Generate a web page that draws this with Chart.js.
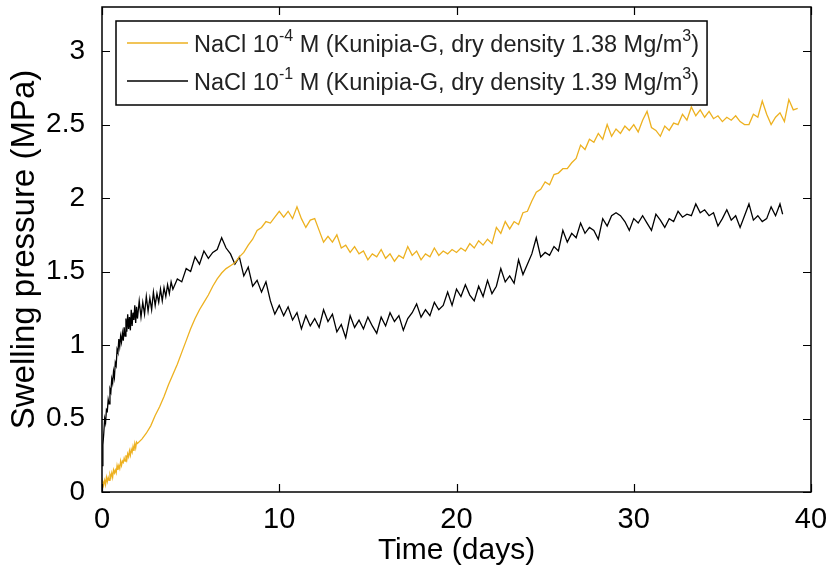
<!DOCTYPE html>
<html>
<head>
<meta charset="utf-8">
<script src="https://cdn.jsdelivr.net/npm/chart.js@4.4.1/dist/chart.umd.min.js"></script>
<style>
html,body{margin:0;padding:0;background:#fff;}
#wrap{width:828px;height:570px;}
</style>
</head>
<body>
<div id="wrap"><canvas id="c" width="828" height="570"></canvas></div>
<script>
// ---- data ----
const orangeLabel = "NaCl 10^{-4} M (Kunipia-G, dry density 1.38 Mg/m^{3})";
const blackLabel  = "NaCl 10^{-1} M (Kunipia-G, dry density 1.39 Mg/m^{3})";
const xTitle = "Time (days)";
const yTitle = "Swelling pressure (MPa)";

const orangeDays = [
 0,0.05,0.1,0.15,0.2,0.25,0.3,0.35,0.4,0.45,0.5,0.55,0.6,0.65,0.7,0.75,0.8,0.85,0.9,0.95,
 1,1.05,1.1,1.15,1.2,1.25,1.3,1.35,1.4,1.45,1.5,1.55,1.6,1.65,1.7,1.75,1.8,1.85,1.9,1.95,
 2,2.25,2.5,2.75,3,3.25,3.5,3.75,4,4.25,4.5,4.75,5,5.25,5.5,5.75,6,6.25,6.5,6.75,
 7,7.25,7.5,7.75,8,8.25,8.5,8.75,9,9.25,9.5,9.75,10,10.25,10.5,10.75,11,11.25,11.5,11.75,
 12,12.25,12.5,12.75,13,13.25,13.5,13.75,14,14.25,14.5,14.75,15,15.25,15.5,15.75,16,16.25,16.5,16.75,
 17,17.25,17.5,17.75,18,18.25,18.5,18.75,19,19.25,19.5,19.75,20,20.25,20.5,20.75,21,21.25,21.5,21.75,
 22,22.25,22.5,22.75,23,23.25,23.5,23.75,24,24.25,24.5,24.75,25,25.25,25.5,25.75,26,26.25,26.5,26.75,
 27,27.25,27.5,27.75,28,28.25,28.5,28.75,29,29.25,29.5,29.75,30,30.25,30.5,30.75,31,31.25,31.5,31.75,
 32,32.25,32.5,32.75,33,33.25,33.5,33.75,34,34.25,34.5,34.75,35,35.25,35.5,35.75,36,36.25,36.5,36.75,
 37,37.25,37.5,37.75,38,38.25,38.5,38.75,39,39.25
];
const orangeMPa = [
 0.03,0.07,0.05,0.08,0.05,0.10,0.07,0.10,0.08,0.12,0.10,0.13,0.10,0.15,0.13,0.15,0.13,0.18,0.15,0.18,
 0.16,0.21,0.18,0.21,0.20,0.23,0.21,0.25,0.22,0.26,0.24,0.28,0.25,0.29,0.27,0.31,0.28,0.33,0.30,0.34,
 0.33,0.36,0.40,0.45,0.52,0.58,0.65,0.73,0.80,0.87,0.95,1.03,1.11,1.18,1.24,1.29,1.34,1.40,1.45,1.49,
 1.52,1.54,1.56,1.60,1.63,1.68,1.72,1.78,1.80,1.84,1.83,1.87,1.91,1.87,1.91,1.86,1.94,1.86,1.80,1.85,
 1.86,1.78,1.70,1.74,1.70,1.75,1.66,1.68,1.63,1.67,1.62,1.64,1.58,1.62,1.60,1.65,1.59,1.62,1.57,1.61,
 1.59,1.67,1.61,1.64,1.58,1.62,1.60,1.66,1.61,1.64,1.62,1.65,1.63,1.66,1.64,1.69,1.66,1.71,1.68,1.72,
 1.69,1.80,1.76,1.84,1.79,1.84,1.82,1.90,1.91,1.98,2.04,2.06,2.11,2.09,2.16,2.17,2.20,2.20,2.24,2.27,
 2.36,2.33,2.40,2.38,2.44,2.40,2.50,2.42,2.47,2.44,2.49,2.46,2.50,2.45,2.53,2.59,2.48,2.46,2.42,2.49,
 2.46,2.51,2.50,2.57,2.53,2.62,2.56,2.60,2.55,2.59,2.54,2.56,2.52,2.55,2.53,2.56,2.52,2.50,2.50,2.57,
 2.55,2.66,2.57,2.50,2.55,2.58,2.52,2.67,2.60,2.61
];

const blackDays = [
 0,0.05,0.1,0.15,0.2,0.25,0.3,0.35,0.4,0.45,0.5,0.55,0.6,0.65,0.7,0.75,0.8,0.85,0.9,0.95,
 1,1.05,1.1,1.15,1.2,1.25,1.3,1.35,1.4,1.45,1.5,1.55,1.6,1.65,1.7,1.75,1.8,1.85,1.9,1.95,
 2,2.1,2.2,2.3,2.4,2.5,2.6,2.7,2.8,2.9,3,3.1,3.2,3.3,3.4,3.5,3.6,3.7,3.8,3.9,
 4,4.25,4.5,4.75,5,5.25,5.5,5.75,6,6.25,6.5,6.75,7,7.25,7.5,7.75,8,8.25,8.5,8.75,
 9,9.25,9.5,9.75,10,10.25,10.5,10.75,11,11.25,11.5,11.75,12,12.25,12.5,12.75,13,13.25,13.5,13.75,
 14,14.25,14.5,14.75,15,15.25,15.5,15.75,16,16.25,16.5,16.75,17,17.25,17.5,17.75,18,18.25,18.5,18.75,
 19,19.25,19.5,19.75,20,20.25,20.5,20.75,21,21.25,21.5,21.75,22,22.25,22.5,22.75,23,23.25,23.5,23.75,
 24,24.25,24.5,24.75,25,25.25,25.5,25.75,26,26.25,26.5,26.75,27,27.25,27.5,27.75,28,28.25,28.5,28.75,
 29,29.25,29.5,29.75,30,30.25,30.5,30.75,31,31.25,31.5,31.75,32,32.25,32.5,32.75,33,33.25,33.5,33.75,
 34,34.25,34.5,34.75,35,35.25,35.5,35.75,36,36.25,36.5,36.75,37,37.25,37.5,37.75,38,38.25,38.4
];
const blackMPa = [
 0.18,0.32,0.40,0.50,0.47,0.56,0.55,0.63,0.60,0.70,0.68,0.77,0.74,0.82,0.78,0.88,0.86,0.97,0.95,1.04,
 0.99,1.06,1.02,1.08,1.03,1.12,1.06,1.18,1.09,1.21,1.11,1.19,1.10,1.24,1.13,1.22,1.17,1.27,1.15,1.26,
 1.18,1.30,1.19,1.29,1.21,1.33,1.23,1.32,1.24,1.36,1.27,1.35,1.29,1.38,1.30,1.39,1.33,1.41,1.35,1.43,
 1.38,1.45,1.43,1.52,1.50,1.60,1.55,1.64,1.59,1.63,1.65,1.73,1.66,1.62,1.55,1.60,1.47,1.53,1.40,1.44,
 1.36,1.43,1.30,1.21,1.27,1.20,1.26,1.17,1.22,1.11,1.20,1.13,1.18,1.12,1.24,1.16,1.21,1.09,1.14,1.05,
 1.20,1.12,1.17,1.11,1.19,1.13,1.08,1.19,1.13,1.22,1.16,1.20,1.10,1.18,1.22,1.28,1.19,1.24,1.20,1.29,
 1.24,1.27,1.36,1.27,1.38,1.33,1.41,1.34,1.30,1.40,1.33,1.44,1.35,1.40,1.52,1.43,1.47,1.42,1.58,1.48,
 1.55,1.62,1.73,1.60,1.63,1.61,1.67,1.64,1.78,1.70,1.76,1.73,1.83,1.76,1.80,1.78,1.72,1.86,1.81,1.88,
 1.90,1.88,1.84,1.78,1.86,1.83,1.88,1.83,1.78,1.89,1.85,1.80,1.86,1.84,1.91,1.87,1.89,1.88,1.96,1.90,
 1.92,1.88,1.90,1.81,1.86,1.92,1.85,1.88,1.80,1.88,1.96,1.85,1.88,1.84,1.86,1.94,1.88,1.96,1.89
];

const xTicks = [0, 10, 20, 30, 40];
const yTicks = [0, 0.5, 1, 1.5, 2, 2.5, 3];

// ---- helpers ----
const pairs = (xs, ys) => xs.map((x, i) => ({x: x, y: ys[i]}));
const FONT = "'Liberation Sans', Arial, sans-serif";

// draw text with ^{...} superscripts
function drawRich(ctx, str, x, y, size) {
  const parts = str.split(/(\^\{[^}]*\})/);
  let cx = x;
  parts.forEach(p => {
    if (!p) return;
    if (p.startsWith('^{')) {
      const t = p.slice(2, -1);
      ctx.font = Math.round(size * 0.7) + 'px ' + FONT;
      ctx.fillText(t, cx, y - size * 0.4);
      cx += ctx.measureText(t).width;
    } else {
      ctx.font = size + 'px ' + FONT;
      ctx.fillText(p, cx, y);
      cx += ctx.measureText(p).width;
    }
  });
  return cx - x;
}
function measureRich(ctx, str, size) {
  const parts = str.split(/(\^\{[^}]*\})/);
  let w = 0;
  parts.forEach(p => {
    if (!p) return;
    if (p.startsWith('^{')) {
      ctx.font = Math.round(size * 0.7) + 'px ' + FONT;
      w += ctx.measureText(p.slice(2, -1)).width;
    } else {
      ctx.font = size + 'px ' + FONT;
      w += ctx.measureText(p).width;
    }
  });
  return w;
}

const framePlugin = {
  id: 'frame',
  afterDatasetsDraw(chart) {
    const {ctx, chartArea: a, scales} = chart;
    ctx.save();
    ctx.strokeStyle = '#000';
    ctx.lineWidth = 1.5;
    ctx.strokeRect(a.left, a.top, a.right - a.left, a.bottom - a.top);
    const tl = 8;
    ctx.lineWidth = 1.2;
    ctx.beginPath();
    xTicks.forEach(v => {
      const px = Math.round(scales.x.getPixelForValue(v)) + 0.5;
      ctx.moveTo(px, a.bottom); ctx.lineTo(px, a.bottom - tl);
      ctx.moveTo(px, a.top); ctx.lineTo(px, a.top + tl);
    });
    yTicks.forEach(v => {
      const py = Math.round(scales.y.getPixelForValue(v)) + 0.5;
      ctx.moveTo(a.left, py); ctx.lineTo(a.left + tl, py);
      ctx.moveTo(a.right, py); ctx.lineTo(a.right - tl, py);
    });
    ctx.stroke();

    // legend box
    const size = 23.5;
    const lx = a.left + 14, ly = a.top + 14;
    const lineLen = 61, gap = 6, padL = 11, padR = 8, rowH = 38;
    const ds = chart.data.datasets;
    let maxW = 0;
    ds.forEach(d => { maxW = Math.max(maxW, measureRich(ctx, d.label, size)); });
    const bw = padL + lineLen + gap + maxW + padR;
    const bh = rowH * ds.length + 8;
    ctx.fillStyle = '#fff';
    ctx.fillRect(lx, ly, bw, bh);
    ctx.lineWidth = 1.5;
    ctx.strokeStyle = '#000';
    ctx.strokeRect(lx, ly, bw, bh);
    ds.forEach((d, i) => {
      const cy = ly + 22 + i * rowH;
      ctx.strokeStyle = d.borderColor;
      ctx.lineWidth = 1.3;
      ctx.beginPath();
      ctx.moveTo(lx + padL, cy); ctx.lineTo(lx + padL + lineLen, cy);
      ctx.stroke();
      ctx.fillStyle = '#222';
      ctx.textBaseline = 'middle';
      ctx.textAlign = 'left';
      drawRich(ctx, d.label, lx + padL + lineLen + gap, cy + 3, size);
    });
    ctx.restore();
  }
};

new Chart(document.getElementById('c'), {
  type: 'line',
  data: {
    datasets: [
      {label: orangeLabel, data: pairs(orangeDays, orangeMPa), borderColor: '#EDB120', borderWidth: 1.3, pointRadius: 0, tension: 0},
      {label: blackLabel, data: pairs(blackDays, blackMPa), borderColor: '#000000', borderWidth: 1.3, pointRadius: 0, tension: 0}
    ]
  },
  options: {
    responsive: false,
    animation: false,
    events: [],
    layout: {padding: {left: 0, top: 7, right: 0, bottom: 0}},
    plugins: {legend: {display: false}, tooltip: {enabled: false}},
    scales: {
      x: {
        type: 'linear', min: 0, max: 40,
        grid: {display: false}, border: {display: false},
        afterBuildTicks: s => { s.ticks = xTicks.map(v => ({value: v})); },
        afterFit: s => { s.height = 78; s.paddingLeft = 0; s.paddingRight = 17; },
        ticks: {color: '#000', font: {family: FONT, size: 29}, padding: 3, maxRotation: 0, callback: v => String(v)},
        title: {display: true, text: xTitle, color: '#000', font: {family: FONT, size: 30}, padding: {top: 0, bottom: 1}}
      },
      y: {
        type: 'linear', min: 0, max: 3.3,
        grid: {display: false}, border: {display: false},
        afterBuildTicks: s => { s.ticks = yTicks.map(v => ({value: v})); },
        afterFit: s => { s.width = 102; s.paddingTop = 0; s.paddingBottom = 0; },
        ticks: {color: '#000', font: {family: FONT, size: 28}, padding: 9, callback: v => String(v)},
        title: {display: true, text: yTitle, color: '#000', font: {family: FONT, size: 33}, padding: {top: 5, bottom: 0}}
      }
    }
  },
  plugins: [framePlugin]
});
</script>
</body>
</html>
